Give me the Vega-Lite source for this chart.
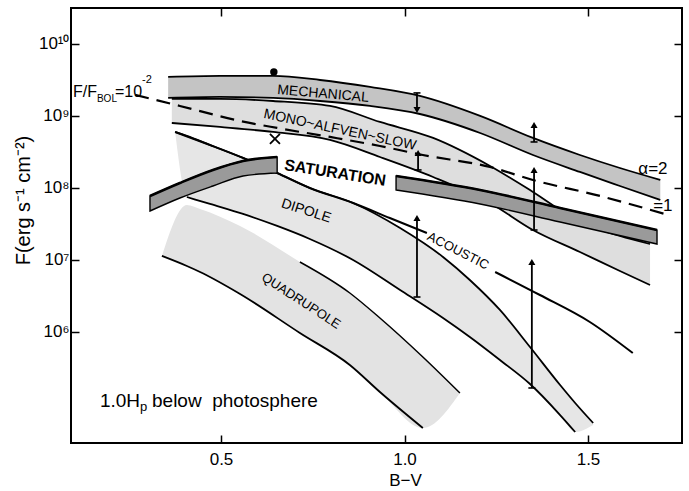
{
  "$schema": "https://vega.github.io/schema/vega-lite/v6.json",
  "width": 611,
  "height": 435,
  "autosize": {"type": "none"},
  "padding": {"left": 71, "top": 8, "right": 7, "bottom": 48},
  "background": "#ffffff",
  "config": {
    "font": "Liberation Sans",
    "view": {"stroke": "#000000", "strokeWidth": 2},
    "axis": {
      "grid": false,
      "domain": false,
      "tickColor": "#000000",
      "tickWidth": 1.5,
      "tickSize": -8,
      "labelColor": "#000000",
      "labelFont": "Liberation Sans",
      "labelFontSize": 17,
      "titleColor": "#000000",
      "titleFont": "Liberation Sans",
      "titleFontSize": 17,
      "titleFontWeight": "normal"
    },
    "text": {"font": "Liberation Sans", "color": "#000000"}
  },
  "datasets": {
    "bands": [
      {"band": "quad", "bv": 0.339, "hi": 7.052, "lo": 7.052},
      {"band": "quad", "bv": 0.407, "hi": 7.761, "lo": 6.912},
      {"band": "quad", "bv": 0.443, "hi": 7.705, "lo": 6.829},
      {"band": "quad", "bv": 0.552, "hi": 7.469, "lo": 6.523},
      {"band": "quad", "bv": 0.715, "hi": 6.968, "lo": 5.981},
      {"band": "quad", "bv": 0.851, "hi": 6.537, "lo": 5.536},
      {"band": "quad", "bv": 0.933, "hi": 6.189, "lo": 5.160},
      {"band": "quad", "bv": 1.050, "hi": 5.647, "lo": 4.659},
      {"band": "quad", "bv": 1.151, "hi": 5.146, "lo": 5.146},
      {"band": "dip", "bv": 0.375, "hi": 8.776, "lo": 8.776},
      {"band": "dip", "bv": 0.407, "hi": 8.721, "lo": 7.872},
      {"band": "dip", "bv": 0.470, "hi": 8.595, "lo": 7.775},
      {"band": "dip", "bv": 0.560, "hi": 8.415, "lo": 7.636},
      {"band": "dip", "bv": 0.653, "hi": 8.206, "lo": 7.469},
      {"band": "dip", "bv": 0.742, "hi": 7.997, "lo": 7.288},
      {"band": "dip", "bv": 0.860, "hi": 7.789, "lo": 6.996},
      {"band": "dip", "bv": 0.988, "hi": 7.441, "lo": 6.579},
      {"band": "dip", "bv": 1.105, "hi": 7.038, "lo": 6.189},
      {"band": "dip", "bv": 1.178, "hi": 6.718, "lo": 5.925},
      {"band": "dip", "bv": 1.260, "hi": 6.301, "lo": 5.605},
      {"band": "dip", "bv": 1.342, "hi": 5.786, "lo": 5.271},
      {"band": "dip", "bv": 1.424, "hi": 5.257, "lo": 4.840},
      {"band": "dip", "bv": 1.465, "hi": 5.007, "lo": 4.604},
      {"band": "dip", "bv": 1.514, "hi": 4.729, "lo": 4.701},
      {"band": "mono", "bv": 0.366, "hi": 9.235, "lo": 8.901},
      {"band": "mono", "bv": 0.497, "hi": 9.235, "lo": 8.846},
      {"band": "mono", "bv": 0.642, "hi": 9.207, "lo": 8.776},
      {"band": "mono", "bv": 0.797, "hi": 9.138, "lo": 8.665},
      {"band": "mono", "bv": 0.933, "hi": 8.915, "lo": 8.428},
      {"band": "mono", "bv": 1.078, "hi": 8.693, "lo": 8.150},
      {"band": "mono", "bv": 1.233, "hi": 8.303, "lo": 7.789},
      {"band": "mono", "bv": 1.350, "hi": 7.942, "lo": 7.413},
      {"band": "mono", "bv": 1.478, "hi": 7.524, "lo": 7.107},
      {"band": "mono", "bv": 1.587, "hi": 7.330, "lo": 6.843},
      {"band": "mono", "bv": 1.669, "hi": 7.218, "lo": 6.648},
      {"band": "mech", "bv": 0.356, "hi": 9.541, "lo": 9.249},
      {"band": "mech", "bv": 0.497, "hi": 9.555, "lo": 9.263},
      {"band": "mech", "bv": 0.642, "hi": 9.555, "lo": 9.249},
      {"band": "mech", "bv": 0.770, "hi": 9.499, "lo": 9.207},
      {"band": "mech", "bv": 0.906, "hi": 9.402, "lo": 9.138},
      {"band": "mech", "bv": 1.042, "hi": 9.277, "lo": 9.026},
      {"band": "mech", "bv": 1.206, "hi": 8.999, "lo": 8.762},
      {"band": "mech", "bv": 1.350, "hi": 8.693, "lo": 8.456},
      {"band": "mech", "bv": 1.478, "hi": 8.456, "lo": 8.220},
      {"band": "mech", "bv": 1.587, "hi": 8.275, "lo": 8.025},
      {"band": "mech", "bv": 1.697, "hi": 8.109, "lo": 7.830},
      {"band": "sat1", "bv": 0.3065, "hi": 7.886, "lo": 7.677},
      {"band": "sat1", "bv": 0.388, "hi": 8.067, "lo": 7.858},
      {"band": "sat1", "bv": 0.478, "hi": 8.248, "lo": 8.025},
      {"band": "sat1", "bv": 0.560, "hi": 8.373, "lo": 8.164},
      {"band": "sat1", "bv": 0.653, "hi": 8.428, "lo": 8.206},
      {"band": "sat2", "bv": 0.977, "hi": 8.164, "lo": 7.969},
      {"band": "sat2", "bv": 1.206, "hi": 7.969, "lo": 7.775},
      {"band": "sat2", "bv": 1.424, "hi": 7.719, "lo": 7.524},
      {"band": "sat2", "bv": 1.688, "hi": 7.413, "lo": 7.218}
    ],
    "acoustic": [
      {"seg": "a", "bv": 0.375, "logF": 8.776},
      {"seg": "a", "bv": 0.470, "logF": 8.595},
      {"seg": "a", "bv": 0.560, "logF": 8.415},
      {"seg": "a", "bv": 0.653, "logF": 8.206},
      {"seg": "a", "bv": 0.742, "logF": 7.997},
      {"seg": "a", "bv": 0.860, "logF": 7.789},
      {"seg": "a", "bv": 0.960, "logF": 7.580},
      {"seg": "a", "bv": 1.061, "logF": 7.371},
      {"seg": "b", "bv": 1.247, "logF": 6.829},
      {"seg": "b", "bv": 1.369, "logF": 6.509},
      {"seg": "b", "bv": 1.505, "logF": 6.134},
      {"seg": "b", "bv": 1.622, "logF": 5.702}
    ],
    "fbol": [
      {"bv": 0.266, "logF": 9.291},
      {"bv": 0.388, "logF": 9.138},
      {"bv": 0.552, "logF": 8.929},
      {"bv": 0.653, "logF": 8.832},
      {"bv": 0.797, "logF": 8.707},
      {"bv": 0.933, "logF": 8.581},
      {"bv": 1.050, "logF": 8.456},
      {"bv": 1.233, "logF": 8.289},
      {"bv": 1.350, "logF": 8.109},
      {"bv": 1.533, "logF": 7.886},
      {"bv": 1.718, "logF": 7.622}
    ],
    "limits": [
      {"bv": 1.034, "from": 9.319, "to": 9.082},
      {"bv": 1.037, "from": 8.248, "to": 8.484},
      {"bv": 1.034, "from": 6.481, "to": 7.580},
      {"bv": 1.353, "from": 8.637, "to": 8.873},
      {"bv": 1.353, "from": 7.413, "to": 8.248},
      {"bv": 1.347, "from": 5.216, "to": 6.968}
    ],
    "stars": [
      {"kind": "dot", "bv": 0.644, "logF": 9.611},
      {"kind": "cross", "bv": 0.647, "logF": 8.679}
    ]
  },
  "encoding": {
    "x": {"field": "bv", "type": "quantitative", "scale": {"domain": [0.0913, 1.7561], "nice": false, "zero": false}, "axis": null}
  },
  "layer": [
    {
      "data": {"name": "bands"},
      "transform": [{"filter": "datum.band === 'quad'"}],
      "mark": {"type": "area", "fill": "#e3e3e3", "interpolate": "monotone"},
      "encoding": {
        "x": {
          "field": "bv", "type": "quantitative",
          "scale": {"domain": [0.0913, 1.7561], "nice": false, "zero": false},
          "axis": {"orient": "bottom", "values": [0.5, 1, 1.5], "format": ".1f", "labelPadding": 16,
                   "title": "B−V", "titleX": 334, "titleY": 42, "titleAlign": "center", "titleBaseline": "alphabetic"}
        },
        "y": {
          "field": "hi", "type": "quantitative",
          "scale": {"domain": [4.451, 10.5], "nice": false, "zero": false},
          "axis": {"orient": "left", "values": [6, 7, 8, 9, 10], "labelPadding": 10,
                   "labelExpr": "datum.value == 10 ? '10¹⁰' : datum.value == 9 ? '10⁹' : datum.value == 8 ? '10⁸' : datum.value == 7 ? '10⁷' : '10⁶'",
                   "title": "F(erg s⁻¹ cm⁻²)", "titleFontSize": 20, "titleX": -48, "titleY": 192,
                   "titleAlign": "center", "titleBaseline": "middle", "titleAngle": -90}
        },
        "y2": {"field": "lo"}
      }
    },
    {
      "data": {"name": "bands"},
      "transform": [{"filter": "datum.band === 'dip'"}],
      "mark": {"type": "area", "fill": "#e6e6e6", "interpolate": "monotone"},
      "encoding": {"y": {"field": "hi", "type": "quantitative", "axis": null}, "y2": {"field": "lo"}}
    },
    {
      "data": {"name": "bands"},
      "transform": [{"filter": "datum.band === 'mono'"}],
      "mark": {"type": "area", "fill": "#dedede", "interpolate": "monotone"},
      "encoding": {"y": {"field": "hi", "type": "quantitative", "axis": null}, "y2": {"field": "lo"}}
    },
    {
      "data": {"name": "bands"},
      "transform": [{"filter": "datum.band === 'mech'"}],
      "mark": {"type": "area", "fill": "#c4c4c4", "interpolate": "monotone"},
      "encoding": {"y": {"field": "hi", "type": "quantitative", "axis": null}, "y2": {"field": "lo"}}
    },
    {
      "data": {"name": "bands"},
      "transform": [
        {"filter": "datum.band === 'mech' || datum.band === 'mono'"},
        {"fold": ["hi", "lo"], "as": ["edge", "logF"]}
      ],
      "mark": {"type": "line", "color": "#000000", "strokeWidth": 1.8, "interpolate": "monotone"},
      "encoding": {"y": {"field": "logF", "type": "quantitative", "axis": null}, "detail": [{"field": "band"}, {"field": "edge"}]}
    },
    {
      "data": {"name": "bands"},
      "transform": [{"filter": "datum.band === 'dip' && datum.bv >= 0.40 && datum.bv <= 1.47"}],
      "mark": {"type": "line", "color": "#000000", "strokeWidth": 1.8, "interpolate": "monotone"},
      "encoding": {"y": {"field": "lo", "type": "quantitative", "axis": null}}
    },
    {
      "data": {"name": "bands"},
      "transform": [{"filter": "datum.band === 'dip'"}],
      "mark": {"type": "line", "color": "#000000", "strokeWidth": 1.8, "interpolate": "monotone"},
      "encoding": {"y": {"field": "hi", "type": "quantitative", "axis": null}}
    },
    {
      "data": {"name": "bands"},
      "transform": [{"filter": "datum.band === 'quad' && datum.bv <= 1.06"}],
      "mark": {"type": "line", "color": "#000000", "strokeWidth": 1.8, "interpolate": "monotone"},
      "encoding": {"y": {"field": "lo", "type": "quantitative", "axis": null}}
    },
    {
      "data": {"name": "bands"},
      "transform": [{"filter": "datum.band === 'quad' && datum.bv >= 0.70"}],
      "mark": {"type": "line", "color": "#000000", "strokeWidth": 1.5, "interpolate": "monotone"},
      "encoding": {"y": {"field": "hi", "type": "quantitative", "axis": null}}
    },
    {
      "data": {"name": "fbol"},
      "mark": {"type": "line", "color": "#000000", "strokeWidth": 2.2, "strokeDash": [14, 8], "interpolate": "monotone"},
      "encoding": {"y": {"field": "logF", "type": "quantitative", "axis": null}}
    },
    {
      "data": {"name": "acoustic"},
      "mark": {"type": "line", "color": "#000000", "strokeWidth": 2, "interpolate": "monotone"},
      "encoding": {"y": {"field": "logF", "type": "quantitative", "axis": null}, "detail": {"field": "seg"}}
    },
    {
      "data": {"name": "bands"},
      "transform": [{"filter": "datum.band === 'sat1' || datum.band === 'sat2'"}],
      "mark": {"type": "area", "fill": "#9a9a9a", "stroke": "#000000", "strokeWidth": 1.4, "interpolate": "monotone"},
      "encoding": {"y": {"field": "hi", "type": "quantitative", "axis": null}, "y2": {"field": "lo"}, "detail": {"field": "band"}}
    },
    {
      "data": {"name": "bands"},
      "transform": [{"filter": "datum.band === 'sat1' || datum.band === 'sat2'"}],
      "mark": {"type": "line", "color": "#000000", "strokeWidth": 2.6, "interpolate": "monotone"},
      "encoding": {"y": {"field": "hi", "type": "quantitative", "axis": null}, "detail": {"field": "band"}}
    },
    {
      "data": {"name": "limits"},
      "mark": {"type": "rule", "color": "#000000", "strokeWidth": 1.8},
      "encoding": {"y": {"field": "from", "type": "quantitative", "axis": null}, "y2": {"field": "to"}}
    },
    {
      "data": {"name": "limits"},
      "transform": [{"filter": "datum.to > datum.from"}],
      "mark": {"type": "point", "shape": "triangle-up", "filled": true, "color": "#000000", "size": 50, "opacity": 1},
      "encoding": {"y": {"field": "to", "type": "quantitative", "axis": null}}
    },
    {
      "data": {"name": "limits"},
      "transform": [{"filter": "datum.to < datum.from"}],
      "mark": {"type": "point", "shape": "triangle-down", "filled": true, "color": "#000000", "size": 50, "opacity": 1},
      "encoding": {"y": {"field": "to", "type": "quantitative", "axis": null}}
    },
    {
      "data": {"name": "limits"},
      "mark": {"type": "point", "shape": "stroke", "filled": false, "color": "#000000", "strokeWidth": 1.6, "size": 49, "opacity": 1},
      "encoding": {"y": {"field": "from", "type": "quantitative", "axis": null}}
    },
    {
      "data": {"name": "stars"},
      "transform": [{"filter": "datum.kind === 'dot'"}],
      "mark": {"type": "point", "shape": "circle", "filled": true, "color": "#000000", "size": 55, "opacity": 1},
      "encoding": {
        "x": {"field": "bv", "type": "quantitative",
              "axis": {"orient": "top", "values": [0.5, 1, 1.5], "labels": false, "title": null}},
        "y": {"field": "logF", "type": "quantitative",
              "axis": {"orient": "right", "values": [6, 7, 8, 9, 10], "labels": false, "title": null}}
      }
    },
    {
      "data": {"name": "stars"},
      "transform": [{"filter": "datum.kind === 'cross'"}],
      "mark": {"type": "point", "shape": "M-1,-1L1,1M-1,1L1,-1", "filled": false, "color": "#000000", "strokeWidth": 1.8, "size": 100, "opacity": 1},
      "encoding": {"y": {"field": "logF", "type": "quantitative", "axis": null}}
    },
    {
      "data": {"values": [{"label": "MECHANICAL", "bv": 0.778, "logF": 9.305}]},
      "mark": {"type": "text", "angle": 5, "fontSize": 14, "align": "center", "baseline": "middle"},
      "encoding": {"y": {"field": "logF", "type": "quantitative", "axis": null}, "text": {"field": "label"}}
    },
    {
      "data": {"values": [{"label": "MONO~ALFVEN~SLOW", "bv": 0.824, "logF": 8.804}]},
      "mark": {"type": "text", "angle": 12, "fontSize": 14, "align": "center", "baseline": "middle"},
      "encoding": {"y": {"field": "logF", "type": "quantitative", "axis": null}, "text": {"field": "label"}}
    },
    {
      "data": {"values": [{"label": "SATURATION", "bv": 0.811, "logF": 8.206}]},
      "mark": {"type": "text", "angle": 9, "fontSize": 16, "fontWeight": "bold", "align": "center", "baseline": "middle"},
      "encoding": {"y": {"field": "logF", "type": "quantitative", "axis": null}, "text": {"field": "label"}}
    },
    {
      "data": {"values": [{"label": "DIPOLE", "bv": 0.732, "logF": 7.677}]},
      "mark": {"type": "text", "angle": 18, "fontSize": 14, "align": "center", "baseline": "middle"},
      "encoding": {"y": {"field": "logF", "type": "quantitative", "axis": null}, "text": {"field": "label"}}
    },
    {
      "data": {"values": [{"label": "ACOUSTIC", "bv": 1.146, "logF": 7.121}]},
      "mark": {"type": "text", "angle": 27, "fontSize": 13, "align": "center", "baseline": "middle"},
      "encoding": {"y": {"field": "logF", "type": "quantitative", "axis": null}, "text": {"field": "label"}}
    },
    {
      "data": {"values": [{"label": "QUADRUPOLE", "bv": 0.718, "logF": 6.426}]},
      "mark": {"type": "text", "angle": 33, "fontSize": 13, "align": "center", "baseline": "middle"},
      "encoding": {"y": {"field": "logF", "type": "quantitative", "axis": null}, "text": {"field": "label"}}
    },
    {
      "data": {"values": [{"label": "α=2", "bv": 1.677, "logF": 8.262}, {"label": "=1", "bv": 1.704, "logF": 7.747}]},
      "mark": {"type": "text", "fontSize": 17, "align": "center", "baseline": "middle"},
      "encoding": {"y": {"field": "logF", "type": "quantitative", "axis": null}, "text": {"field": "label"}}
    },
    {
      "data": {"values": [{"label": "F/F", "bv": 0.0967, "logF": 9.263}, {"label": "=10", "bv": 0.211, "logF": 9.263}]},
      "mark": {"type": "text", "fontSize": 16, "align": "left", "baseline": "alphabetic"},
      "encoding": {"y": {"field": "logF", "type": "quantitative", "axis": null}, "text": {"field": "label"}}
    },
    {
      "data": {"values": [{"label": "BOL", "bv": 0.162, "logF": 9.193}]},
      "mark": {"type": "text", "fontSize": 10, "align": "left", "baseline": "alphabetic"},
      "encoding": {"y": {"field": "logF", "type": "quantitative", "axis": null}, "text": {"field": "label"}}
    },
    {
      "data": {"values": [{"label": "-2", "bv": 0.2847, "logF": 9.458}]},
      "mark": {"type": "text", "fontSize": 11, "align": "left", "baseline": "alphabetic"},
      "encoding": {"y": {"field": "logF", "type": "quantitative", "axis": null}, "text": {"field": "label"}}
    },
    {
      "data": {"values": [{"label": "1.0H", "bv": 0.170, "logF": 4.951}, {"label": "below\u00a0 photosphere", "bv": 0.312, "logF": 4.951}]},
      "mark": {"type": "text", "fontSize": 19, "align": "left", "baseline": "alphabetic"},
      "encoding": {"y": {"field": "logF", "type": "quantitative", "axis": null}, "text": {"field": "label"}}
    },
    {
      "data": {"values": [{"label": "p", "bv": 0.279, "logF": 4.896}]},
      "mark": {"type": "text", "fontSize": 13, "align": "left", "baseline": "alphabetic"},
      "encoding": {"y": {"field": "logF", "type": "quantitative", "axis": null}, "text": {"field": "label"}}
    }
  ]
}
